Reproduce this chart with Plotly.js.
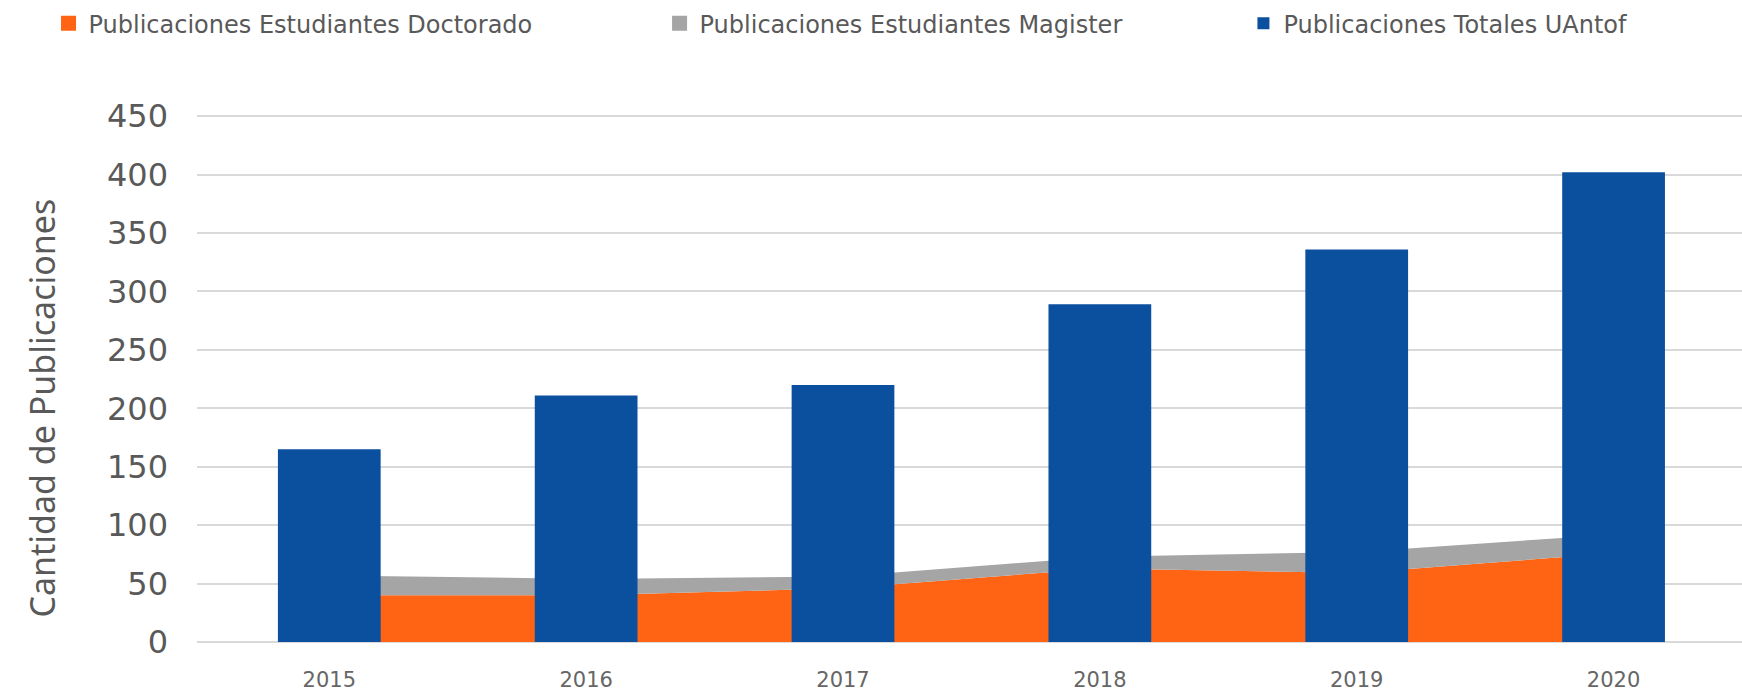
<!DOCTYPE html>
<html>
<head>
<meta charset="utf-8">
<script src="https://cdn.plot.ly/plotly-3.0.1.min.js"></script>
<style>
  html, body { margin: 0; padding: 0; background: #ffffff; }
  #chart { width: 1742px; height: 694px; }
</style>
</head>
<body>
<div id="chart"></div>
<script>
// Data
var years = ['2015', '2016', '2017', '2018', '2019', '2020'];
var doctorado = [40, 40, 46, 63, 59, 76];
var magister = [17, 14, 10, 10, 18, 16];
var totales = [165, 211, 220, 289, 336, 402];
var yTicks = [0, 50, 100, 150, 200, 250, 300, 350, 400, 450];

var names = {
  doc: 'Publicaciones Estudiantes Doctorado',
  mag: 'Publicaciones Estudiantes Magister',
  tot: 'Publicaciones Totales UAntof'
};
var colors = { doc: '#FF6414', mag: '#A5A5A5', tot: '#0B4F9F' };

var traces = [
  // stacked areas (main subplot, below the bars)
  { x: years, y: doctorado, type: 'scatter', mode: 'none', stackgroup: 'one',
    fill: 'tozeroy', fillcolor: colors.doc, line: { width: 0 },
    name: names.doc, legendgroup: 'doc', showlegend: false, hoverinfo: 'y' },
  { x: years, y: magister, type: 'scatter', mode: 'none', stackgroup: 'one',
    fill: 'tonexty', fillcolor: colors.mag, line: { width: 0 },
    name: names.mag, legendgroup: 'mag', showlegend: false, hoverinfo: 'y' },
  // legend entries (square markers hidden behind the bars)
  { x: years, y: doctorado, type: 'scatter', mode: 'markers',
    marker: { symbol: 'square', size: 15, color: colors.doc },
    name: names.doc, legendgroup: 'doc', legend: 'legend', hoverinfo: 'skip' },
  { x: years, y: doctorado, type: 'scatter', mode: 'markers',
    marker: { symbol: 'square', size: 15, color: colors.mag },
    name: names.mag, legendgroup: 'mag', legend: 'legend2', hoverinfo: 'skip' },
  // bars on overlaying axes so they are drawn over the areas
  { x: years, y: totales, type: 'bar', xaxis: 'x2', yaxis: 'y2',
    marker: { color: colors.tot }, name: names.tot, legendgroup: 'tot', legend: 'legend3' }
];

var xRange = [-0.515, 5.5];
var yRange = [0, 451];

function legendAt(xPaper) {
  return {
    orientation: 'h',
    x: xPaper, xanchor: 'left',
    y: 1.216, yanchor: 'top',
    font: { size: 24, color: '#595959', family: 'DejaVu Sans, sans-serif' },
    bgcolor: 'rgba(0,0,0,0)'
  };
}

var layout = {
  width: 1742,
  height: 694,
  margin: { l: 197, r: 0, t: 115, b: 52, pad: 0 },
  paper_bgcolor: '#ffffff',
  plot_bgcolor: '#ffffff',
  font: { family: 'DejaVu Sans, sans-serif', color: '#595959' },
  bargap: 0.6,
  showlegend: true,
  legend: legendAt(-0.0961),
  legend2: legendAt(0.2994),
  legend3: legendAt(0.6773),
  xaxis: {
    type: 'category',
    range: xRange,
    showgrid: false,
    zeroline: false,
    showline: false,
    ticks: '',
    ticklabelstandoff: 23,
    tickfont: { size: 21, color: '#666666', family: 'DejaVu Sans, sans-serif' },
    fixedrange: true
  },
  yaxis: {
    range: yRange,
    tickvals: yTicks,
    ticktext: yTicks.map(String),
    showgrid: true,
    gridcolor: '#D9D9D9',
    gridwidth: 2,
    zeroline: true,
    zerolinecolor: '#D9D9D9',
    zerolinewidth: 2,
    showline: false,
    ticks: '',
    ticklabelstandoff: 28,
    tickfont: { size: 32, color: '#595959', family: 'DejaVu Sans, sans-serif' },
    fixedrange: true
  },
  xaxis2: {
    type: 'category',
    overlaying: 'x',
    range: xRange,
    visible: false,
    fixedrange: true
  },
  yaxis2: {
    overlaying: 'y',
    range: yRange,
    visible: false,
    fixedrange: true
  },
  annotations: [{
    text: 'Cantidad de Publicaciones',
    xref: 'paper', yref: 'paper',
    x: -0.1003, y: 0.443,
    xanchor: 'center', yanchor: 'middle',
    textangle: -90,
    showarrow: false,
    font: { size: 34, color: '#595959', family: 'Noto Sans, sans-serif' }
  }]
};

Plotly.newPlot('chart', traces, layout, { displayModeBar: false, staticPlot: true });
</script>
</body>
</html>
